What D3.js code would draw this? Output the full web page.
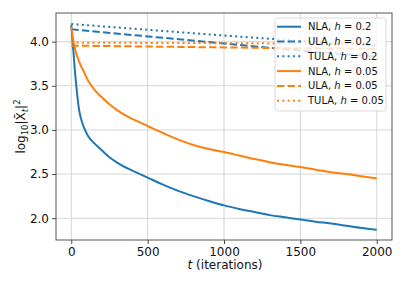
<!DOCTYPE html>
<html>
<head>
<meta charset="utf-8">
<script src="https://cdn.jsdelivr.net/npm/d3@7"></script>
<style>
  body { margin: 0; background: #fff; }
  svg { font-family: "DejaVu Sans", sans-serif; }
</style>
</head>
<body>
<div id="chart"></div>
<script>
// iterations sampled for the NLA curves
const nlaT = [0, 5, 10, 15, 20, 30, 40, 50, 65, 85, 110, 150, 200, 250, 300, 350, 400, 500, 600, 700,
  800, 900, 1000, 1100, 1200, 1300, 1400, 1500, 1600, 1700, 1800, 1900, 2000];
const nla02 = [4.19, 4.08, 3.97, 3.87, 3.75, 3.55, 3.38, 3.24, 3.12, 3.02, 2.93, 2.85, 2.77, 2.69, 2.63,
  2.58, 2.54, 2.46, 2.38, 2.31, 2.25, 2.195, 2.145, 2.105, 2.07, 2.035, 2.01, 1.985, 1.96, 1.94, 1.915, 1.89, 1.87];
const nla005 = [4.17, 4.11, 4.05, 4.0, 3.96, 3.88, 3.83, 3.78, 3.72, 3.65, 3.56, 3.46, 3.37, 3.29, 3.225,
  3.17, 3.125, 3.045, 2.965, 2.89, 2.83, 2.785, 2.75, 2.71, 2.67, 2.635, 2.605, 2.58, 2.55, 2.52, 2.50, 2.475, 2.45];

// the other curves are almost straight
const slowT = [0, 500, 1000, 1500, 2000];
const ula02 = [4.14, 4.06, 3.98, 3.90, 3.83];
const tula02 = [4.20, 4.135, 4.07, 4.01, 3.95];
const ula005 = [3.955, 3.945, 3.935, 3.925, 3.92];
const tula005 = [3.99, 3.986, 3.983, 3.979, 3.975];

const xTicks = [0, 500, 1000, 1500, 2000];
const yTicks = [2.0, 2.5, 3.0, 3.5, 4.0];

const series = [
  { method: "NLA", h: "0.2", t: nlaT, y: nla02, color: "#1f77b4", dash: null },
  { method: "ULA", h: "0.2", t: slowT, y: ula02, color: "#1f77b4", dash: "7.4,3.2" },
  { method: "TULA", h: "0.2", t: slowT, y: tula02, color: "#1f77b4", dash: "2,3.3" },
  { method: "NLA", h: "0.05", t: nlaT, y: nla005, color: "#ff7f0e", dash: null },
  { method: "ULA", h: "0.05", t: slowT, y: ula005, color: "#ff7f0e", dash: "7.4,3.2" },
  { method: "TULA", h: "0.05", t: slowT, y: tula005, color: "#ff7f0e", dash: "2,3.3" }
];

const W = 407, H = 285;
const margin = { top: 13, right: 15, bottom: 45, left: 56 };
const width = W - margin.left - margin.right;
const height = H - margin.top - margin.bottom;

const svg = d3.select("#chart").append("svg")
  .attr("width", W)
  .attr("height", H);

const g = svg.append("g")
  .attr("transform", `translate(${margin.left},${margin.top})`);

const x = d3.scaleLinear().domain([-100, 2100]).range([0, width]);
const y = d3.scaleLinear().domain([1.753, 4.325]).range([height, 0]);

// grid
g.append("g").selectAll("line").data(xTicks).join("line")
  .attr("x1", d => x(d)).attr("x2", d => x(d))
  .attr("y1", 0).attr("y2", height)
  .attr("stroke", "#d0d0d0").attr("stroke-width", 0.9);
g.append("g").selectAll("line").data(yTicks).join("line")
  .attr("x1", 0).attr("x2", width)
  .attr("y1", d => y(d)).attr("y2", d => y(d))
  .attr("stroke", "#d0d0d0").attr("stroke-width", 0.9);

// curves
const line = d3.line()
  .x(d => x(d[0]))
  .y(d => y(d[1]))
  .curve(d3.curveMonotoneX);

g.append("g").selectAll("path").data(series).join("path")
  .attr("d", s => line(s.t.map((t, i) => [t, s.y[i]])))
  .attr("fill", "none")
  .attr("stroke", s => s.color)
  .attr("stroke-width", 2)
  .attr("stroke-dasharray", s => s.dash);

// axes
const xAxis = g.append("g")
  .attr("transform", `translate(0,${height})`)
  .call(d3.axisBottom(x).tickValues(xTicks).tickFormat(d3.format("d")).tickSize(4).tickPadding(3));
const yAxis = g.append("g")
  .call(d3.axisLeft(y).tickValues(yTicks).tickFormat(d3.format(".1f")).tickSize(4).tickPadding(3));

[xAxis, yAxis].forEach(a => {
  a.select(".domain").remove();
  a.selectAll(".tick line").attr("stroke", "#333").attr("stroke-width", 0.9);
  a.selectAll(".tick text").attr("fill", "#111").style("font-size", "12px")
    .style("font-family", "DejaVu Sans");
});

// frame
g.append("rect")
  .attr("width", width).attr("height", height)
  .attr("fill", "none").attr("stroke", "#444").attr("stroke-width", 0.9);

// x label
const xl = svg.append("text")
  .attr("x", margin.left + width / 2 + 1)
  .attr("y", 269)
  .attr("text-anchor", "middle")
  .style("font-size", "12px")
  .attr("fill", "#111");
xl.append("tspan").style("font-style", "italic").text("t");
xl.append("tspan").text(" (iterations)");

// y label: log10 |X̄_t|^2
const yl = svg.append("text")
  .attr("transform", `translate(25,${margin.top + height / 2}) rotate(-90)`)
  .attr("text-anchor", "middle")
  .style("font-size", "12px")
  .attr("fill", "#111");
yl.append("tspan").text("log");
yl.append("tspan").attr("dy", 3).style("font-size", "8.5px").text("10");
yl.append("tspan").attr("dy", -3).text("|X\u0304");
yl.append("tspan").attr("dy", 3).style("font-size", "8.5px").style("font-style", "italic").text("t");
yl.append("tspan").attr("dy", -3).text("|");
yl.append("tspan").attr("dy", -5).style("font-size", "8.5px").text("2");

// legend
const lg = svg.append("g").attr("transform", "translate(275,18)");
lg.append("rect")
  .attr("width", 111).attr("height", 93).attr("rx", 2.5)
  .attr("fill", "#fff").attr("fill-opacity", 0.8)
  .attr("stroke", "#d6d6d6").attr("stroke-width", 0.9);

const rows = lg.selectAll("g.row").data(series).join("g")
  .attr("class", "row")
  .attr("transform", (d, i) => `translate(0,${8.7 + i * 14.8})`);
rows.append("line")
  .attr("x1", 2).attr("x2", 26)
  .attr("stroke", d => d.color).attr("stroke-width", 2)
  .attr("stroke-dasharray", d => d.dash);
const lt = rows.append("text")
  .attr("x", 33).attr("dy", "0.35em")
  .style("font-size", "10px").attr("fill", "#111");
lt.append("tspan").text(d => d.method + ", ");
lt.append("tspan").style("font-style", "italic").text("h");
lt.append("tspan").text(d => " = " + d.h);
</script>
</body>
</html>
